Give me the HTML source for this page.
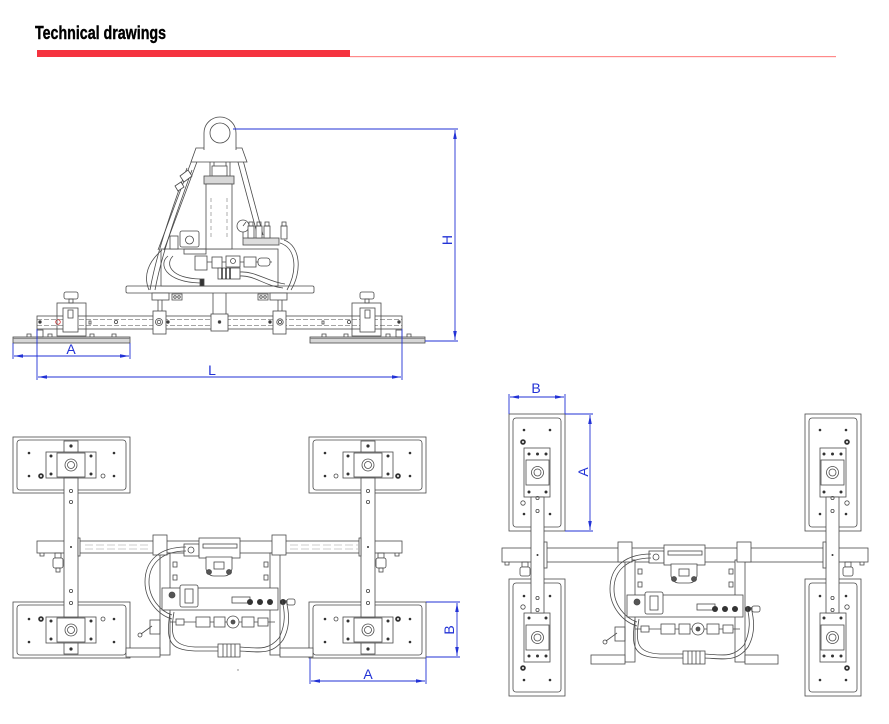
<!DOCTYPE html>
<html><head><meta charset="utf-8">
<style>
html,body{margin:0;padding:0;background:#fff;}
svg{display:block;}
</style></head><body>
<svg width="889" height="724" viewBox="0 0 889 724" xmlns="http://www.w3.org/2000/svg">
<defs>
<marker id="ar" viewBox="0 0 10 4" refX="10" refY="2" markerWidth="9" markerHeight="3.6" markerUnits="userSpaceOnUse" orient="auto-start-reverse"><path d="M0,0L10,2L0,4z" fill="#2232d6"/></marker>

<g id="padH" stroke="#4a4a4a" stroke-width="0.8" fill="none">
<rect x="0" y="0" width="117" height="56" fill="#fff"/>
<rect x="4" y="3" width="109" height="50" rx="3"/>
<rect x="51" y="4" width="14" height="12" fill="#fff"/>
<rect x="33" y="15" width="50" height="26" fill="#fff"/>
<rect x="44" y="16" width="28" height="24"/>
<circle cx="58" cy="28" r="6"/>
<circle cx="58" cy="28" r="3.5"/>
<g fill="#333" stroke="none">
<circle cx="58" cy="9" r="1.6"/>
<circle cx="38" cy="19" r="1.5"/><circle cx="38" cy="37" r="1.5"/>
<circle cx="78" cy="19" r="1.5"/><circle cx="78" cy="37" r="1.5"/>
<circle cx="16" cy="16" r="1.3"/><circle cx="16" cy="39" r="1.3"/>
<circle cx="101" cy="16" r="1.3"/><circle cx="101" cy="39" r="1.3"/>
<circle cx="28" cy="39" r="2.8"/>
</g>
<circle cx="28" cy="39" r="1" fill="#fff" stroke="none"/>
<circle cx="90" cy="39" r="2"/>
</g>

<g id="padV" stroke="#4a4a4a" stroke-width="0.8" fill="none">
<rect x="0" y="0" width="56" height="117" fill="#fff"/>
<rect x="4" y="4" width="48" height="109" rx="3"/>
<rect x="15" y="34" width="26" height="49" fill="#fff"/>
<rect x="17" y="46" width="23" height="25"/>
<circle cx="28.5" cy="58.5" r="6"/>
<circle cx="28.5" cy="58.5" r="3.5"/>
<g fill="#333" stroke="none">
<circle cx="20" cy="40" r="1.5"/><circle cx="37" cy="40" r="1.5"/><circle cx="28.5" cy="40" r="1.5"/>
<circle cx="20" cy="78" r="1.5"/><circle cx="37" cy="78" r="1.5"/>
<circle cx="15" cy="16" r="1.3"/><circle cx="41" cy="16" r="1.3"/>
<circle cx="15" cy="100" r="1.3"/><circle cx="41" cy="100" r="1.3"/>
<circle cx="14" cy="28" r="2.8"/>
</g>
<circle cx="14" cy="28" r="1" fill="#fff" stroke="none"/>
<circle cx="14" cy="89" r="2.2"/>
</g>

<g id="center" stroke="#4a4a4a" stroke-width="0.8" fill="none">
<rect x="160" y="553" width="10" height="102" fill="#fff"/>
<rect x="270" y="553" width="10" height="102" fill="#fff"/>
<rect x="153" y="535" width="14" height="20" fill="#fff"/>
<rect x="272" y="535" width="14" height="20" fill="#fff"/>
<rect x="173" y="562" width="4" height="5"/><rect x="173" y="575" width="4" height="5"/>
<rect x="264" y="562" width="4" height="5"/><rect x="264" y="575" width="4" height="5"/>
<rect x="184" y="544" width="15" height="12" fill="#fff"/>
<circle cx="191" cy="550" r="3"/>
<rect x="199" y="538" width="41" height="20" fill="#fff"/>
<rect x="203" y="544" width="34" height="4"/>
<path d="M206,557 h26 v12 q-2,7 -8,7 h-10 q-6,0 -8,-7 z" fill="#fff"/>
<rect x="214" y="562" width="10" height="7"/>
<circle cx="209" cy="572" r="2.5" fill="#555"/><circle cx="229" cy="572" r="2.5" fill="#555"/>
<rect x="162" y="588" width="116" height="22" fill="#fff"/>
<rect x="180" y="585" width="18" height="22" rx="2" fill="#fff"/>
<rect x="185" y="589" width="8" height="14"/>
<circle cx="172" cy="595" r="3" fill="#555"/>
<rect x="232" y="597" width="18" height="6"/>
<g fill="#333" stroke="none">
<circle cx="250" cy="602" r="3"/><circle cx="260" cy="602" r="3"/><circle cx="270" cy="602" r="3"/><circle cx="283" cy="602" r="3"/>
</g>
<rect x="287" y="599" width="8" height="6" rx="2"/>
<line x1="170" y1="622" x2="275" y2="622"/>
<rect x="176" y="619" width="8" height="6" fill="#fff"/>
<rect x="196" y="617" width="14" height="10" fill="#fff"/>
<rect x="214" y="617" width="11" height="10" fill="#fff"/>
<circle cx="233" cy="622" r="6" fill="#fff"/>
<circle cx="233" cy="622" r="2" fill="#555"/>
<rect x="242" y="617" width="12" height="10" fill="#fff"/>
<rect x="258" y="618" width="10" height="8" fill="#fff"/>
<path d="M170,612 C166,640 168,650 195,651 L218,651"/>
<path d="M174,612 C170,636 172,646 195,647 L218,647"/>
<path d="M240,651 C260,652 272,655 283,640 C291,626 289,612 286,600"/>
<path d="M240,647 C258,648 268,651 279,638 C286,624 285,612 282,600"/>
<path d="M186,547 C160,547 145,560 145,582 C145,600 158,615 172,619"/>
<path d="M186,551 C163,551 149,563 149,582 C149,598 160,611 172,615"/>
<rect x="218" y="644" width="22" height="13" fill="#fff"/>
<path d="M223,644v13M227,644v13M231,644v13M235,644v13"/>
<rect x="126" y="648" width="34" height="9" fill="#fff"/>
<rect x="280" y="648" width="33" height="9" fill="#fff"/>
<line x1="141" y1="634" x2="152" y2="626"/>
<circle cx="140" cy="635" r="2"/>
<rect x="150" y="620" width="10" height="14"/>
</g>
</defs>

<!-- Header -->
<text x="35" y="39" font-family="Liberation Sans, Arial, sans-serif" font-weight="bold" font-size="18" textLength="131" lengthAdjust="spacingAndGlyphs" fill="#000" stroke="#000" stroke-width="0.4">Technical drawings</text>
<rect x="37" y="50" width="313" height="7" fill="#f5333f"/>
<rect x="350" y="56" width="486" height="1.2" fill="#ff8a8a"/>

<!-- ================= FRONT VIEW ================= -->
<g stroke="#4a4a4a" stroke-width="0.8" fill="none">
<rect x="13" y="337" width="117" height="6" fill="#d6d6d6"/>
<line x1="13" y1="338.5" x2="130" y2="338.5" stroke="#777"/>
<rect x="310" y="337" width="115" height="6" fill="#d6d6d6"/>
<line x1="310" y1="338.5" x2="425" y2="338.5" stroke="#777"/>
<path d="M27,337v-3h4v3M48,337v-3h4v3M90,337v-3h4v3M112,337v-3h4v3"/>
<path d="M322,337v-3h4v3M344,337v-3h4v3M386,337v-3h4v3M407,337v-3h4v3"/>
<rect x="37" y="330" width="6" height="7"/>
<rect x="396" y="330" width="6" height="7"/>
<rect x="37" y="316" width="365" height="13" fill="#fff"/>
<line x1="37" y1="319.5" x2="402" y2="319.5" stroke-dasharray="5 2" stroke-width="0.6"/>
<line x1="37" y1="325.5" x2="402" y2="325.5" stroke-dasharray="5 2" stroke-width="0.6"/>
<circle cx="40" cy="322" r="1.3" fill="#333"/>
<circle cx="58" cy="322" r="2.3" stroke="#d33"/>
<circle cx="116" cy="322" r="1.6"/>
<rect x="89" y="321" width="2" height="3"/>
<rect x="322" y="321" width="2" height="3"/>
<circle cx="349" cy="322" r="1.6"/>
<circle cx="399" cy="322" r="1.3" fill="#333"/>
<circle cx="270" cy="322" r="1.3" fill="#333"/>
<circle cx="168" cy="322" r="1.3" fill="#333"/>
<rect x="57" y="303" width="29" height="33"/>
<rect x="63" y="308" width="15" height="24" fill="#fff"/>
<rect x="68" y="310" width="5" height="8"/>
<rect x="64" y="292" width="14" height="7" rx="2" fill="#fff"/>
<rect x="69" y="299" width="4" height="4"/>
<rect x="352" y="303" width="29" height="33"/>
<rect x="360" y="308" width="15" height="24" fill="#fff"/>
<rect x="365" y="310" width="5" height="8"/>
<rect x="360" y="292" width="14" height="7" rx="2" fill="#fff"/>
<rect x="365" y="299" width="4" height="4"/>
<path d="M158,293v18M162,293v18"/>
<rect x="153" y="311" width="13" height="23" fill="#fff"/>
<circle cx="159" cy="322" r="3.5"/><circle cx="159" cy="322" r="1.8"/>
<path d="M213,293v21M226,293v21"/>
<rect x="211" y="314" width="17" height="17" fill="#fff"/>
<circle cx="219.5" cy="322" r="1.3" fill="#333"/>
<path d="M278,293v18M282,293v18"/>
<rect x="273" y="311" width="13" height="23" fill="#fff"/>
<circle cx="280" cy="322" r="3.2"/><circle cx="280" cy="322" r="1.6"/>
<rect x="126" y="286" width="188" height="7" rx="1.5" fill="#fff"/>
<rect x="152" y="293" width="17" height="7" fill="#fff"/>
<rect x="270" y="293" width="17" height="7" fill="#fff"/>
<path d="M172,294h10v6h-10zM258,294h10v6h-10z"/>
<circle cx="175" cy="297" r="1.3"/><circle cx="179" cy="297" r="1.3"/>
<circle cx="261" cy="297" r="1.3"/><circle cx="265" cy="297" r="1.3"/>
<rect x="161" y="249" width="117" height="37" fill="#fff"/>
<path d="M196,149 L158,250 M201,151 L164,250"/>
<path d="M240,149 L263,235 M235,151 L258,237"/>
<path d="M196,148 H242 L247,162 H191 Z" fill="#fff"/>
<path d="M204,150 V133 A16,16 0 0 1 236,133 V150" fill="#fff"/>
<circle cx="220" cy="133" r="10"/>
<path d="M210,162v14M214,162v14M226,162v14M230,162v14"/>
<rect x="212" y="166" width="15" height="10" fill="#fff"/>
<rect x="204" y="176" width="30" height="8" fill="#d8d8d8"/>
<rect x="206" y="184" width="26" height="65" fill="#fff"/>
<path d="M211,198v40M227,198v40" stroke="#999" stroke-dasharray="4 3"/>
<path d="M187,168 C175,200 157,250 150,290"/>
<path d="M192,170 C180,203 162,252 155,290"/>
<path d="M180,176 l8,-6 l4,6 l-8,6 z" fill="#fff"/>
<path d="M175,186 l6,-4 l3,5 l-6,4 z" fill="#fff"/>
<path d="M162,250 C148,262 143,276 149,290"/>
<rect x="180" y="231" width="19" height="16" rx="2" fill="#fff"/>
<circle cx="189.5" cy="240" r="4"/>
<rect x="170" y="236" width="8" height="13" fill="#fff"/>
<rect x="184" y="249" width="22" height="5"/>
<circle cx="243" cy="226" r="6" fill="#fff"/>
<line x1="243" y1="226" x2="246" y2="222"/>
<line x1="243" y1="232" x2="243" y2="238"/>
<rect x="243" y="238" width="36" height="7" fill="#ddd"/>
<rect x="248" y="226" width="6" height="12" fill="#fff"/><rect x="249" y="222" width="4" height="4"/>
<rect x="256" y="226" width="6" height="12" fill="#fff"/><rect x="257" y="222" width="4" height="4"/>
<rect x="264" y="226" width="6" height="12" fill="#fff"/><rect x="265" y="222" width="4" height="4"/>
<rect x="281" y="226" width="6" height="13" fill="#fff"/><rect x="282" y="222" width="4" height="4"/>
<path d="M280,243 C296,248 298,270 287,290"/>
<path d="M284,240 C301,246 302,272 291,290"/>
<line x1="200" y1="262" x2="272" y2="262"/>
<rect x="195" y="256" width="12" height="14" fill="#fff"/>
<rect x="212" y="257" width="10" height="11" fill="#fff"/>
<rect x="226" y="256" width="14" height="11" fill="#fff"/>
<circle cx="233" cy="261" r="2.5"/>
<rect x="244" y="257" width="12" height="10" fill="#fff"/>
<rect x="258" y="258" width="12" height="8" rx="3" fill="#fff"/>
<path d="M168,256 C158,264 165,282 200,283"/>
<path d="M173,256 C165,264 170,278 200,279"/>
<rect x="218" y="268" width="22" height="11" fill="#fff"/>
<path d="M222,268v11M226,268v11M230,268v11" stroke="#222" stroke-width="1.4"/>
<path d="M240,272 C256,271 268,282 285,284"/>
<path d="M240,276 C254,275 265,286 283,288"/>
<rect x="200" y="279" width="4" height="7" fill="#333"/>
</g>

<g stroke="#2232d6" stroke-width="0.9" fill="none">
<path d="M233,129 H458"/>
<path d="M425,341 H458"/>
<line x1="455" y1="130" x2="455" y2="340" marker-start="url(#ar)" marker-end="url(#ar)"/>
<path d="M13,343 V359 M130,343 V359"/>
<line x1="14" y1="356" x2="129" y2="356" marker-start="url(#ar)" marker-end="url(#ar)"/>
<path d="M37,329 V380 M402,329 V380"/>
<line x1="38" y1="377" x2="401" y2="377" marker-start="url(#ar)" marker-end="url(#ar)"/>
</g>
<g fill="#2232d6" font-family="Liberation Sans, Arial, sans-serif" font-size="14" text-anchor="middle">
<text x="452" y="240" transform="rotate(-90 452 240)">H</text>
<text x="71" y="354">A</text>
<text x="212" y="375">L</text>
</g>

<!-- ================= BOTTOM-LEFT VIEW ================= -->
<g stroke="#4a4a4a" stroke-width="0.8" fill="none">
<rect x="37" y="541" width="365" height="12" fill="#fff"/>
<line x1="85" y1="545" x2="150" y2="545" stroke="#999" stroke-dasharray="8 3" stroke-width="0.6"/>
<line x1="85" y1="549" x2="150" y2="549" stroke="#999" stroke-dasharray="8 3" stroke-width="0.6"/>
<line x1="290" y1="545" x2="358" y2="545" stroke="#999" stroke-dasharray="8 3" stroke-width="0.6"/>
<line x1="290" y1="549" x2="358" y2="549" stroke="#999" stroke-dasharray="8 3" stroke-width="0.6"/>
<path d="M40,553v3h4v-3M395,553v3h4v-3"/>
<rect x="55" y="553" width="6" height="5"/>
<rect x="53" y="558" width="10" height="10" rx="2" fill="#fff"/>
<rect x="56" y="568" width="4" height="4"/>
<rect x="378" y="553" width="6" height="5"/>
<rect x="376" y="558" width="10" height="10" rx="2" fill="#fff"/>
<rect x="379" y="568" width="4" height="4"/>
</g>
<use href="#padH" x="13" y="437"/>
<use href="#padH" transform="translate(13,658) scale(1,-1)"/>
<use href="#padH" transform="translate(426,437) scale(-1,1)"/>
<use href="#padH" transform="translate(426,658) scale(-1,-1)"/>
<g stroke="#4a4a4a" stroke-width="0.8" fill="#fff">
<rect x="64" y="478" width="14" height="139"/>
<rect x="361" y="478" width="14" height="139"/>
<rect x="78" y="538" width="2" height="18"/>
<rect x="359" y="538" width="2" height="18"/>
<g fill="none">
<circle cx="71" cy="491" r="1.6"/><circle cx="71" cy="502" r="1.6"/>
<circle cx="71" cy="591" r="1.6"/><circle cx="71" cy="603" r="1.6"/>
<circle cx="368" cy="491" r="1.6"/><circle cx="368" cy="502" r="1.6"/>
<circle cx="368" cy="591" r="1.6"/><circle cx="368" cy="603" r="1.6"/>
</g>
<circle cx="71" cy="547" r="1" fill="#333" stroke="none"/>
<circle cx="368" cy="547" r="1" fill="#333" stroke="none"/>
</g>
<use href="#center"/>
<circle cx="238" cy="670" r="0.7" fill="#777"/>

<g stroke="#2232d6" stroke-width="0.9" fill="none">
<path d="M426,602 H460 M426,657 H460"/>
<line x1="457" y1="603" x2="457" y2="656" marker-start="url(#ar)" marker-end="url(#ar)"/>
<path d="M310,658 V684 M426,658 V684"/>
<line x1="311" y1="681" x2="425" y2="681" marker-start="url(#ar)" marker-end="url(#ar)"/>
</g>
<g fill="#2232d6" font-family="Liberation Sans, Arial, sans-serif" font-size="14" text-anchor="middle">
<text x="454" y="630" transform="rotate(-90 454 630)">B</text>
<text x="368" y="679">A</text>
</g>

<!-- ================= RIGHT VIEW ================= -->
<g stroke="#4a4a4a" stroke-width="0.8" fill="none">
<rect x="502" y="548" width="366" height="14" fill="#fff"/>
<path d="M505,562v3h4v-3M860,562v3h4v-3"/>
<rect x="522" y="562" width="6" height="5"/>
<rect x="520" y="567" width="10" height="9" rx="2" fill="#fff"/>
<rect x="845" y="562" width="6" height="5"/>
<rect x="843" y="567" width="10" height="9" rx="2" fill="#fff"/>
</g>
<use href="#padV" x="509" y="414"/>
<use href="#padV" transform="translate(509,696) scale(1,-1)"/>
<use href="#padV" transform="translate(861,414) scale(-1,1)"/>
<use href="#padV" transform="translate(861,696) scale(-1,-1)"/>
<g stroke="#4a4a4a" stroke-width="0.8" fill="#fff">
<rect x="531" y="497" width="13" height="116"/>
<rect x="826" y="497" width="13" height="116"/>
<rect x="544" y="542" width="3" height="26"/>
<rect x="823" y="542" width="3" height="26"/>
<g fill="none">
<circle cx="537.5" cy="498" r="1.6"/><circle cx="537.5" cy="511" r="1.6"/>
<circle cx="537.5" cy="598" r="1.6"/><circle cx="537.5" cy="610" r="1.6"/>
<circle cx="832.5" cy="498" r="1.6"/><circle cx="832.5" cy="511" r="1.6"/>
<circle cx="832.5" cy="598" r="1.6"/><circle cx="832.5" cy="610" r="1.6"/>
</g>
<circle cx="537.5" cy="555" r="1" fill="#333" stroke="none"/>
<circle cx="832.5" cy="555" r="1" fill="#333" stroke="none"/>
</g>
<use href="#center" transform="translate(465,7)"/>

<g stroke="#2232d6" stroke-width="0.9" fill="none">
<path d="M509,394 V414 M565,394 V414"/>
<line x1="510" y1="397" x2="564" y2="397" marker-start="url(#ar)" marker-end="url(#ar)"/>
<path d="M565,414 H593 M565,531 H593"/>
<line x1="590" y1="415" x2="590" y2="530" marker-start="url(#ar)" marker-end="url(#ar)"/>
</g>
<g fill="#2232d6" font-family="Liberation Sans, Arial, sans-serif" font-size="14" text-anchor="middle">
<text x="536" y="393">B</text>
<text x="588" y="472" transform="rotate(-90 588 472)">A</text>
</g>
</svg>
</body></html>
